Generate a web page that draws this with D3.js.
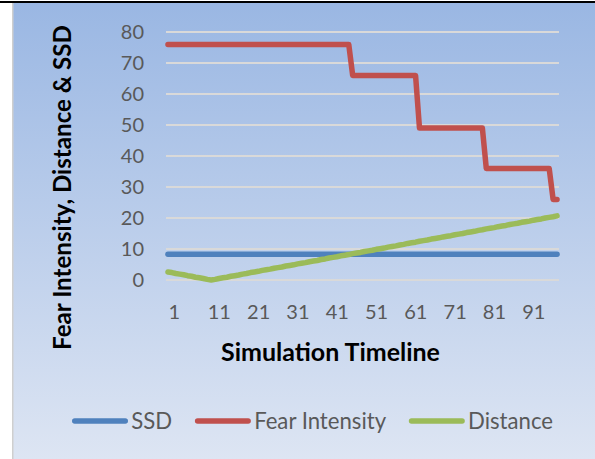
<!DOCTYPE html>
<html>
<head>
<meta charset="utf-8">
<script src="https://cdn.jsdelivr.net/npm/d3@7"></script>
<style>
  body { margin: 0; background: #fff; }
  svg { display: block; }
</style>
</head>
<body>
<script>
// categories on the timeline (1..100) and the labels shown every 10 steps
const categories = d3.range(1, 101);
const xTickLabels = [1, 11, 21, 31, 41, 51, 61, 71, 81, 91];
const yTickValues = [0, 10, 20, 30, 40, 50, 60, 70, 80];
const seriesNames = ["SSD", "Fear Intensity", "Distance"];

const ssd = [
  8.3, 8.3, 8.3, 8.3, 8.3, 8.3, 8.3, 8.3, 8.3, 8.3,
  8.3, 8.3, 8.3, 8.3, 8.3, 8.3, 8.3, 8.3, 8.3, 8.3,
  8.3, 8.3, 8.3, 8.3, 8.3, 8.3, 8.3, 8.3, 8.3, 8.3,
  8.3, 8.3, 8.3, 8.3, 8.3, 8.3, 8.3, 8.3, 8.3, 8.3,
  8.3, 8.3, 8.3, 8.3, 8.3, 8.3, 8.3, 8.3, 8.3, 8.3,
  8.3, 8.3, 8.3, 8.3, 8.3, 8.3, 8.3, 8.3, 8.3, 8.3,
  8.3, 8.3, 8.3, 8.3, 8.3, 8.3, 8.3, 8.3, 8.3, 8.3,
  8.3, 8.3, 8.3, 8.3, 8.3, 8.3, 8.3, 8.3, 8.3, 8.3,
  8.3, 8.3, 8.3, 8.3, 8.3, 8.3, 8.3, 8.3, 8.3, 8.3,
  8.3, 8.3, 8.3, 8.3, 8.3, 8.3, 8.3, 8.3, 8.3, 8.3
];

const fearIntensity = [
  76, 76, 76, 76, 76, 76, 76, 76, 76, 76,
  76, 76, 76, 76, 76, 76, 76, 76, 76, 76,
  76, 76, 76, 76, 76, 76, 76, 76, 76, 76,
  76, 76, 76, 76, 76, 76, 76, 76, 76, 76,
  76, 76, 76, 76, 76, 76, 76, 66, 66, 66,
  66, 66, 66, 66, 66, 66, 66, 66, 66, 66,
  66, 66, 66, 66, 49, 49, 49, 49, 49, 49,
  49, 49, 49, 49, 49, 49, 49, 49, 49, 49,
  49, 36, 36, 36, 36, 36, 36, 36, 36, 36,
  36, 36, 36, 36, 36, 36, 36, 36, 26, 26
];

const distance = [
  2.6, 2.4, 2.1, 1.9, 1.7, 1.4, 1.2, 0.9, 0.7, 0.5,
  0.2, 0.0, 0.2, 0.5, 0.7, 0.9, 1.2, 1.4, 1.6, 1.9,
  2.1, 2.4, 2.6, 2.8, 3.1, 3.3, 3.5, 3.8, 4.0, 4.2,
  4.5, 4.7, 4.9, 5.2, 5.4, 5.6, 5.9, 6.1, 6.3, 6.6,
  6.8, 7.1, 7.3, 7.5, 7.8, 8.0, 8.2, 8.5, 8.7, 8.9,
  9.2, 9.4, 9.6, 9.9, 10.1, 10.3, 10.6, 10.8, 11.0, 11.3,
  11.5, 11.8, 12.0, 12.2, 12.5, 12.7, 12.9, 13.2, 13.4, 13.6,
  13.9, 14.1, 14.3, 14.6, 14.8, 15.0, 15.3, 15.5, 15.7, 16.0,
  16.2, 16.5, 16.7, 16.9, 17.2, 17.4, 17.6, 17.9, 18.1, 18.3,
  18.6, 18.8, 19.0, 19.3, 19.5, 19.7, 20.0, 20.2, 20.4, 20.7
];

const colors = ["#4f81bd", "#c0504d", "#9bbb59"];
const series = [ssd, fearIntensity, distance];

const width = 595;
const height = 459;
const plot = { left: 166, right: 559, top: 32, bottom: 280 };
const font = "Lato, 'Open Sans', sans-serif";

const svg = d3.select("body").append("svg")
  .attr("width", width)
  .attr("height", height);

// chart area background: vertical blue gradient
const grad = svg.append("defs").append("linearGradient")
  .attr("id", "bg").attr("x1", 0).attr("y1", 0).attr("x2", 0).attr("y2", 1);
grad.append("stop").attr("offset", 0).attr("stop-color", "#9ab7e3");
grad.append("stop").attr("offset", 1).attr("stop-color", "#dde5f3");

svg.append("rect")
  .attr("x", 12).attr("y", 3)
  .attr("width", width - 12).attr("height", height - 3)
  .attr("fill", "url(#bg)");
svg.append("line")
  .attr("x1", 12.75).attr("x2", 12.75).attr("y1", 3).attr("y2", height)
  .attr("stroke", "#cfcfcf").attr("stroke-width", 1.5);
svg.append("line")
  .attr("x1", 0).attr("x2", width).attr("y1", 2).attr("y2", 2)
  .attr("stroke", "#000").attr("stroke-width", 2);

const x = d3.scalePoint()
  .domain(categories)
  .range([plot.left, plot.right])
  .padding(0.5);

const y = d3.scaleLinear()
  .domain([0, 80])
  .range([plot.bottom, plot.top]);

// gridlines
svg.append("g")
  .selectAll("line")
  .data(yTickValues)
  .join("line")
  .attr("x1", plot.left).attr("x2", plot.right)
  .attr("y1", d => y(d)).attr("y2", d => y(d))
  .attr("stroke", "#d9d9d9")
  .attr("stroke-width", 2);

// y axis labels
const yAxis = svg.append("g")
  .attr("transform", "translate(156,0)")
  .call(d3.axisLeft(y).tickValues(yTickValues).tickSize(0).tickPadding(12));
yAxis.select(".domain").remove();
yAxis.selectAll("text")
  .attr("font-family", font)
  .attr("font-size", 20)
  .attr("fill", "#595959");

// x axis labels (left aligned on the category, as in the original)
const xAxis = svg.append("g")
  .attr("transform", `translate(0,${plot.bottom})`)
  .call(d3.axisBottom(x).tickValues(xTickLabels).tickSize(0).tickPadding(0));
xAxis.select(".domain").remove();
xAxis.selectAll("text")
  .attr("font-family", font)
  .attr("font-size", 20)
  .attr("fill", "#595959")
  .attr("text-anchor", "start")
  .attr("dy", null)
  .attr("y", 39);

// lines
const line = d3.line()
  .x((d, i) => x(categories[i]))
  .y(d => y(d));

svg.append("g")
  .selectAll("path")
  .data(series)
  .join("path")
  .attr("d", line)
  .attr("fill", "none")
  .attr("stroke", (d, i) => colors[i])
  .attr("stroke-width", 5.5)
  .attr("stroke-linecap", "round")
  .attr("stroke-linejoin", "round");

function fitWidth(text, target) {
  const w = text.node().getComputedTextLength();
  const fs = parseFloat(text.attr("font-size"));
  text.attr("font-size", fs * target / w);
  return fs * target / w;
}

// axis titles
const xTitle = svg.append("text")
  .attr("x", 330.5).attr("y", 360.5)
  .attr("text-anchor", "middle")
  .attr("font-family", font)
  .attr("font-weight", "bold")
  .attr("font-size", 22)
  .attr("fill", "#000")
  .text("Simulation Timeline");
fitWidth(xTitle, 219);

const yTitle = svg.append("text")
  .attr("transform", "translate(70.5,187.5) rotate(-90)")
  .attr("text-anchor", "middle")
  .attr("font-family", font)
  .attr("font-weight", "bold")
  .attr("font-size", 22)
  .attr("fill", "#000")
  .text("Fear Intensity, Distance & SSD");
fitWidth(yTitle, 325);

// legend: font sized so "Fear Intensity" spans the same width as the original
const legend = svg.append("g").attr("transform", "translate(74.75,421)");
const probe = legend.append("text")
  .attr("font-family", font).attr("font-size", 21)
  .text(seriesNames[1]);
const legendSize = fitWidth(probe, 132);
probe.remove();

let lx = 0;
seriesNames.forEach((name, i) => {
  const g = legend.append("g").attr("transform", `translate(${lx},0)`);
  g.append("line")
    .attr("x1", 0).attr("x2", 50.5)
    .attr("stroke", colors[i])
    .attr("stroke-width", 5.5)
    .attr("stroke-linecap", "round");
  const t = g.append("text")
    .attr("x", 56.5)
    .attr("dy", "0.36em")
    .attr("font-family", font)
    .attr("font-size", legendSize)
    .attr("fill", "#595959")
    .text(name);
  lx += 56.5 + t.node().getComputedTextLength() + 25.5;
});
</script>
</body>
</html>
